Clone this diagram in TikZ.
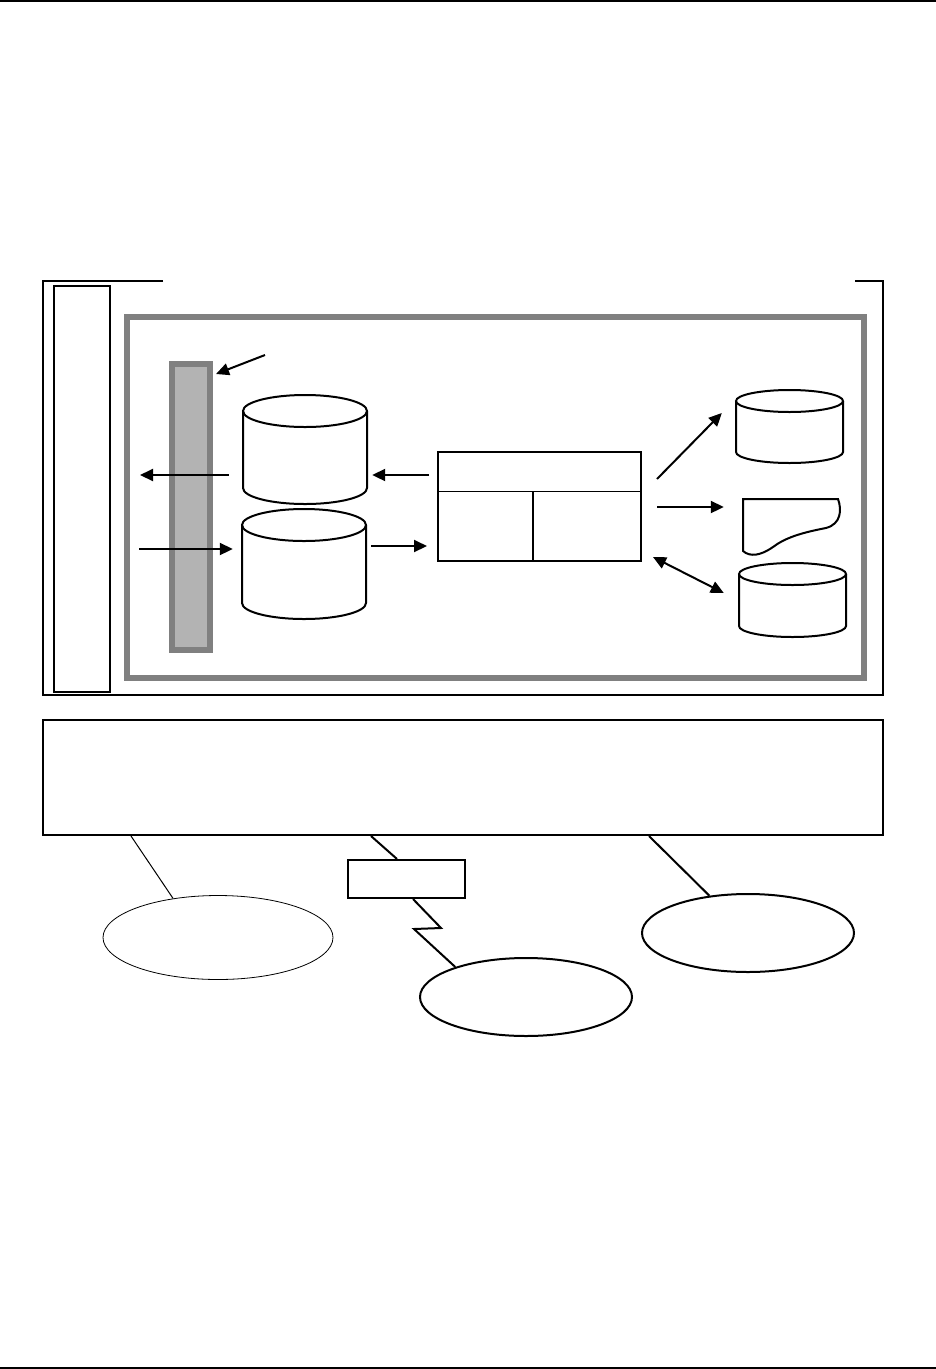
\documentclass[tikz,border=0pt]{standalone}
\usetikzlibrary{arrows.meta,shapes.geometric}
\definecolor{frameg}{HTML}{808080}
\definecolor{barfill}{HTML}{B3B3B3}
\tikzset{
  ln/.style={line width=2pt, draw=black},
  thinln/.style={line width=1pt, draw=black},
  boxn/.style={draw=none, inner sep=0pt, rectangle},
  arr/.style={line width=2pt, -{Triangle[length=13pt,width=12pt]}},
  darr/.style={line width=2pt, {Triangle[length=13pt,width=12pt]}-{Triangle[length=13pt,width=12pt]}},
  ell/.style={ellipse, draw=black, inner sep=0pt},
}
\newcommand\mycyl[6]{% name, xl, xr, ytop-center, ybot-center, ry
  \draw[ln] ({(#2+#3)/2},#4) ellipse [x radius={(#3-#2)/2*1pt}, y radius=#6pt];
  \draw[ln] (#2,#4) -- (#2,#5) arc[start angle=180, end angle=360, x radius={(#3-#2)/2*1pt}, y radius=#6pt] -- (#3,#4);
}
\begin{document}
\begin{tikzpicture}[x=1pt,y=-1pt]
\useasboundingbox (0,0) rectangle (936,1369);
% header / footer rules
\draw[ln] (0,1) -- (936,1);
\draw[ln] (0,1367.5) -- (936,1367.5);
% outer frame with gap at top
\draw[ln] (163,281) -- (43,281) -- (43,695) -- (883,695) -- (883,281) -- (855,281);
\node[boxn, draw=black, line width=2pt, minimum width=56pt, minimum height=406pt] (side) at (82,489) {};
% gray frame
\node[boxn, draw=frameg, line width=6pt, minimum width=737pt, minimum height=361pt] (gframe) at (495.5,497.5) {};
% gray bar
\node[boxn, draw=frameg, fill=barfill, line width=6pt, minimum width=38pt, minimum height=286pt] (bar) at (191,507) {};
% cylinders and shapes (invisible named boxes + drawings)
\node[boxn, minimum width=124pt, minimum height=109pt] (cylA) at (305,449.5) {};
\mycyl{cylA}{243}{367}{411}{488}{16}
\node[boxn, minimum width=124pt, minimum height=110pt] (cylB) at (304,564) {};
\mycyl{cylB}{242}{366}{525}{603}{16}
\node[boxn, minimum width=107pt, minimum height=72pt] (cylC) at (789.5,426) {};
\mycyl{cylC}{736}{843}{401}{452}{11}
\node[boxn, minimum width=107pt, minimum height=73pt] (cylD) at (792.5,599.5) {};
\mycyl{cylD}{739}{846}{574}{626}{11}
\node[boxn, minimum width=97pt, minimum height=55pt] (doc) at (791.5,526.5) {};
\draw[ln] (743,499) -- (743,551) .. controls (750,557) and (760,556) .. (773,547)
  .. controls (785,538) and (800,533) .. (826,528) .. controls (841,524) and (842,510) .. (838,499) -- cycle;
% table
\node[boxn, draw=black, line width=2pt, minimum width=203pt, minimum height=109pt] (tab) at (539.5,506.5) {};
\draw[thinln] ([yshift=15.5pt]tab.west) -- ([yshift=15.5pt]tab.east);
\draw[ln] ([shift={(-6.5,-15.5)}]tab.center) -- ([xshift=-6.5pt]tab.south);
% arrows
\coordinate (barlbl) at (265,355);
\coordinate (outL) at (140,475);
\coordinate (inL) at (139,549);
\draw[arr] (barlbl) -- ([shift={(3,13)}]bar.north east);
\draw[arr] ([shift={(-14,25.5)}]cylA.west) -- (outL);
\draw[arr] (inL) -- ([shift={(-9,-15)}]cylB.west);
\draw[arr] ([shift={(-8,-31.5)}]tab.west) -- ([shift={(5,25.5)}]cylA.east);
\draw[arr] ([shift={(5,-18)}]cylB.east) -- ([shift={(-10,39.5)}]tab.west);
\draw[arr] ([shift={(15,-27.5)}]tab.east) -- ([shift={(-14,-13)}]cylC.west);
\draw[arr] ([shift={(15,0.5)}]tab.east) -- ([shift={(-19,-19.5)}]doc.west);
\draw[darr] ([shift={(11,50.5)}]tab.east) -- ([shift={(-15,-6.5)}]cylD.west);
% bottom box
\node[boxn, draw=black, line width=2pt, minimum width=840pt, minimum height=115pt] (bbox) at (463,777.5) {};
\node[boxn, draw=black, line width=2pt, minimum width=117pt, minimum height=38pt] (small) at (406.5,879) {};
\node[ell, line width=0.8pt, minimum width=230pt, minimum height=84pt] (e1) at (218,937.5) {};
\node[ell, line width=2pt, minimum width=212pt, minimum height=78pt] (e2) at (526,997) {};
\node[ell, line width=2pt, minimum width=212pt, minimum height=78pt] (e3) at (748,933) {};
\draw[thinln] ([xshift=89pt]bbox.south west) -- (e1.139);
\draw[ln] ([xshift=329pt]bbox.south west) -- ([xshift=-9.5pt]small.north);
\draw[ln] ([xshift=6.5pt]small.south) -- ++(28,29) -- ++(-27,1) -- (e2.157);
\draw[ln] ([xshift=607pt]bbox.south west) -- (e3.136);
\end{tikzpicture}
\end{document}
